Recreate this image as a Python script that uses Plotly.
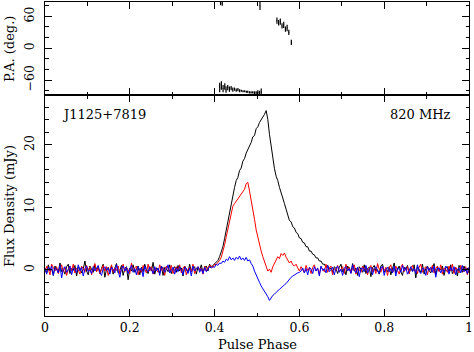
import numpy as np
import plotly.graph_objects as go
from plotly.subplots import make_subplots

# pulse profile, 256 bins across one rotation (mJy)
STOKES_I = [
    0.3, -0.5, 0.8, -0.2, 0.1, -0.9, 0.6, 0.2, -0.4, 1.1, -0.3, 0.0, -0.7, 0.5, 0.9, -0.6,
    0.2, -0.1, 0.7, -1.0, 0.4, 0.3, -0.5, 0.1, 1.4, -0.2, -0.8, 0.6, 0.0, -0.4, 0.8, -0.3,
    0.5, -0.6, 0.2, 0.9, -1.2, 0.1, 0.4, -0.3, 0.6, -0.7, 0.3, 1.0, -0.5, -0.1, 0.7, -0.9,
    0.2, 0.5, -1.6, 0.3, -0.2, 0.8, -0.4, 0.1, 0.6, -0.8, 0.4, -0.3, 0.9, 0.0, -0.6, 0.5,
    -0.2, 1.2, -0.7, 0.3, 0.1, -0.5, 0.6, -0.9, 0.4, 0.2, -0.3, 0.8, -0.6, 0.1, 0.5, -0.4,
    0.7, -0.2, 0.3, -1.0, 0.6, 0.1, -0.4, 0.9, -0.3, 0.2, 0.5, -0.7, 0.4, 0.0, 0.8, -0.5,
    0.3, 0.6, -0.2, 0.9, 0.4, 0.7, 1.0, 1.3, 1.5, 2.1, 2.8, 3.7, 5.0, 6.4, 8.1, 9.4,
    10.9, 12.0, 13.2, 14.3, 14.8, 15.9, 16.3, 17.4, 17.8, 18.7, 19.3, 19.9, 20.4, 21.3, 21.5, 22.6,
    22.9, 23.6, 24.0, 24.6, 24.9, 25.5, 24.1, 21.7, 19.8, 17.3, 16.2, 15.0, 14.3, 13.2, 12.5, 11.5,
    10.6, 9.6, 9.0, 7.9, 7.7, 6.9, 6.7, 6.0, 5.8, 5.1, 5.0, 4.4, 4.3, 3.7, 3.7, 3.0,
    3.0, 2.5, 2.4, 1.9, 1.9, 1.4, 1.4, 0.9, 0.9, 0.4, 0.7, 0.1, 0.3, -0.4, 0.5, 0.2,
    -0.6, 0.4, 0.9, -0.3, 0.1, -0.8, 0.6, 0.2, -0.5, 1.0, -0.2, 0.3, -0.9, 0.5, 0.1, -0.4,
    0.8, -0.6, 0.2, 0.4, -1.1, 0.3, 0.7, -0.2, 0.0, -0.7, 0.6, 0.9, -0.4, 0.1, -0.3, 0.5,
    -0.8, 0.3, 1.1, -0.5, 0.2, 0.6, -0.3, -0.9, 0.4, 0.0, 0.7, -0.6, 0.3, -0.2, 0.8, -1.3,
    0.5, 0.1, -0.4, 0.9, -0.7, 0.2, 0.6, -0.1, -0.5, 0.3, 1.0, -0.8, 0.4, -0.2, 0.1, 0.6,
    -0.9, 0.3, 0.5, -0.3, 0.8, -0.6, 0.0, 0.4, -1.0, 0.7, 0.2, -0.4, 0.6, -0.2, 0.3, -0.5,
]

LINEAR = [
    -0.4, 0.6, 0.1, -0.8, 0.9, 0.3, -0.2, 0.5, -0.6, 0.2, 0.8, -0.3, 0.4, -0.9, 0.1, 0.6,
    -0.2, 0.9, -0.5, 0.3, 0.0, -0.7, 0.6, 0.2, -0.4, 0.7, -0.1, 0.5, -0.8, 0.3, 1.0, -0.3,
    0.4, -0.6, 0.2, 0.7, -0.2, 0.5, -0.9, 0.1, 0.8, -0.4, 0.3, -0.1, 0.6, -0.7, 0.2, 0.9,
    -0.3, 0.4, 0.0, -0.6, 1.1, -0.2, 0.3, 0.6, -0.8, 0.2, -0.4, 0.7, 0.1, -0.5, 0.9, -0.2,
    0.5, -0.7, 0.3, 0.1, -0.4, 0.8, -0.1, 0.4, -0.9, 0.6, 0.2, -0.3, 0.7, -0.6, 0.0, 0.5,
    -0.2, 0.8, -0.5, 0.3, 0.6, -0.8, 0.1, 0.4, -0.3, 0.9, -0.6, 0.2, 0.5, -0.1, 0.3, -0.7,
    0.6, -0.2, 0.4, 0.7, 0.6, 0.4, 0.9, 0.8, 1.2, 1.5, 2.0, 2.9, 4.0, 5.3, 6.6, 7.9,
    9.0, 10.2, 10.6, 11.0, 11.5, 11.8, 12.1, 12.5, 12.9, 13.8, 14.0, 12.6, 11.3, 9.9, 8.1, 6.4,
    5.1, 4.0, 3.0, 2.1, 1.2, 0.4, -0.2, 0.1, -0.4, 0.5, 1.0, 1.6, 2.1, 1.8, 2.6, 2.3,
    2.7, 2.0, 1.6, 1.1, 1.4, 0.8, 0.6, 0.9, 0.3, -0.2, 0.5, 0.1, -0.5, 0.7, -0.1, 0.3,
    -0.6, 0.4, 0.8, -0.2, 0.2, -0.7, 0.5, 0.1, -0.3, 0.9, -0.4, 0.3, 0.6, -0.8, 0.2, -0.1,
    0.7, -0.3, 0.1, 0.5, -0.6, 0.9, -0.2, 0.4, -0.5, 0.2, 0.8, -0.7, 0.3, 0.0, -0.4, 0.6,
    -0.1, 0.5, -0.8, 0.3, 0.7, -0.3, 0.2, -0.6, 1.0, 0.1, -0.4, 0.6, -0.2, 0.4, -0.9, 0.3,
    0.8, -0.5, 0.2, 0.6, -0.1, -0.7, 0.4, 0.9, -0.3, 0.1, 0.5, -0.6, 0.3, 0.7, -0.2, 0.0,
    -0.6, 0.4, 0.9, -0.4, 0.2, 0.5, -0.8, 0.3, -0.1, 0.7, -0.5, 0.2, 0.6, -0.3, 0.8, -0.7,
    0.3, 0.1, -0.4, 0.6, -0.2, 0.9, -0.6, 0.4, 0.0, -0.5, 0.7, 0.2, -0.3, 0.5, -0.8, 0.4,
]

CIRCULAR = [
    0.2, -0.7, 0.4, -0.1, 0.6, -0.9, 0.3, 0.1, -0.5, 0.7, -1.3, 0.2, 0.5, -0.4, 0.0, 0.6,
    -0.8, 0.3, 0.1, -0.5, 0.8, -0.2, 0.4, -1.0, 0.2, 0.6, -0.3, 0.0, -0.6, 0.5, -0.2, 0.3,
    0.7, -0.4, -0.9, 0.2, 0.5, -0.1, 0.3, -0.7, 0.4, 0.1, -0.5, 0.8, -0.3, -1.2, 0.2, 0.6,
    -0.2, 0.4, -0.6, 0.1, 0.7, -0.4, 0.2, -0.8, 0.5, -0.1, 0.3, -1.1, 0.6, 0.0, -0.3, 0.4,
    0.1, -0.6, 0.5, -0.2, 0.3, -0.9, 0.6, 0.2, -0.4, 0.1, 0.8, -0.5, -0.1, 0.4, -0.7, 0.3,
    -0.3, 0.5, 0.0, -0.8, 0.4, 0.2, -0.6, 0.3, -1.0, 0.6, -0.2, 0.1, 0.5, -0.4, 0.2, -0.6,
    0.4, -0.3, 0.1, 0.5, 0.3, 0.5, 0.4, 0.9, 0.7, 1.1, 1.0, 1.4, 1.2, 1.7, 1.5, 2.1,
    1.6, 1.9, 1.5, 2.0, 1.7, 2.2, 1.6, 1.9, 1.5, 2.0, 1.4, 1.6, 1.0, 0.6, -0.2, -0.9,
    -1.5, -2.0, -2.6, -3.0, -3.4, -3.8, -4.3, -4.9, -4.4, -4.1, -3.9, -3.6, -3.3, -3.1, -2.9, -2.6,
    -2.4, -2.2, -1.8, -1.5, -1.2, -1.0, -0.8, -0.7, -0.5, -0.4, -0.2, 0.3, -0.5, 0.2, -0.8, 0.4,
    0.1, -0.6, 0.5, -0.2, 0.3, -1.0, 0.6, -0.1, 0.2, -0.5, 0.7, -0.3, 0.0, 0.4, -0.8, 0.2,
    0.6, -0.4, 0.1, -0.9, 0.3, 0.5, -0.2, 0.2, -0.6, 0.8, -0.1, -0.5, 0.4, -1.1, 0.2, 0.3,
    -0.3, 0.7, -0.5, 0.1, 0.4, -0.8, 0.2, 0.5, -0.2, -0.6, 0.3, 0.6, -0.9, 0.1, 0.4, -0.3,
    0.2, -0.5, 0.6, -1.0, 0.3, 0.1, -0.4, 0.7, -0.2, 0.4, -0.7, 0.0, 0.5, -0.3, 0.2, -0.6,
    0.8, -0.2, -0.6, 0.3, 0.1, -0.9, 0.5, -0.1, 0.4, -0.4, 0.6, -1.2, 0.2, 0.3, -0.5, 0.1,
    -0.4, 0.6, 0.2, -0.7, 0.4, -0.2, 0.5, -0.8, 0.1, 0.3, -0.5, 0.7, -0.3, 0.2, -0.6, 0.4,
]

PHASE = np.arange(len(STOKES_I)) / (len(STOKES_I) - 1)

# position angle points (deg) with errors
PA_PHASE = [0.412, 0.416, 0.420, 0.424, 0.427, 0.431, 0.435, 0.439, 0.443, 0.447,
            0.451, 0.455, 0.459, 0.463, 0.467, 0.471, 0.475, 0.478, 0.482, 0.486,
            0.490, 0.494, 0.498, 0.502, 0.506, 0.510,
            0.414, 0.418, 0.507,
            0.547, 0.551, 0.555, 0.559, 0.563, 0.567, 0.571, 0.575, 0.581]
PA_DEG = [-74, -70, -76, -72, -78, -74, -77, -75, -78, -77,
          -79, -78, -80, -80, -81, -81, -82, -82, -83, -83,
          -83, -84, -84, -83, -84, -82,
          86, 84, 80,
          52, 48, 50, 42, 44, 36, 38, 30, 11]
PA_ERR = [9, 8, 7, 6, 6, 5, 5, 4, 4, 3,
          3, 3, 3, 2, 2, 2, 2, 2, 2, 2,
          2, 3, 3, 4, 4, 6,
          5, 4, 8,
          6, 5, 6, 5, 6, 5, 6, 5, 5]

SOURCE = "J1125+7819"
FREQ = "820 MHz"

FONT = "DejaVu Serif"
TXT = dict(family=FONT, size=13, color="black")

fig = make_subplots(rows=2, cols=1, shared_xaxes=True, vertical_spacing=0,
                    row_heights=[93, 221])

fig.add_trace(go.Scatter(x=PA_PHASE, y=PA_DEG, mode="markers",
                         marker=dict(size=1, color="black"),
                         error_y=dict(type="data", array=PA_ERR, width=0,
                                      thickness=1.2, color="black")),
              row=1, col=1)

for vals, col in [(STOKES_I, "black"), (LINEAR, "#ff0000"), (CIRCULAR, "#0000ff")]:
    fig.add_trace(go.Scatter(x=PHASE, y=vals, mode="lines",
                             line=dict(color=col, width=1)),
                  row=2, col=1)

axis_style = dict(showline=True, linecolor="black", linewidth=1, mirror="allticks",
                  ticks="inside", tickcolor="black", ticklen=7, showgrid=False,
                  zeroline=False, automargin=False,
                  tickfont=dict(family=FONT, size=12.5, color="black"))

fig.update_xaxes(**axis_style, range=[0, 1], dtick=0.2, tick0=0,
                 minor=dict(dtick=0.1, ticklen=3.5, ticks="inside", tickcolor="black"))
fig.update_xaxes(showticklabels=False, row=1, col=1)

fig.update_yaxes(**axis_style, tickangle=-90, ticklabelstandoff=5)
fig.update_yaxes(range=[-88, 87], dtick=60, tick0=0,
                 minor=dict(dtick=20, ticklen=3.5, ticks="inside", tickcolor="black"),
                 row=1, col=1)
fig.update_yaxes(range=[-7.4, 28], dtick=10, tick0=0,
                 minor=dict(dtick=2, ticklen=3.5, ticks="inside", tickcolor="black"),
                 row=2, col=1)

# axis titles
fig.add_annotation(x=0.5, y=-0.092, xref="paper", yref="paper", text="Pulse Phase",
                   showarrow=False, xanchor="center", yanchor="middle", font=TXT)
fig.add_annotation(x=-0.085, y=0.853, xref="paper", yref="paper", text="P.A. (deg.)",
                   showarrow=False, textangle=-90, xanchor="center", yanchor="middle",
                   font=TXT)
fig.add_annotation(x=-0.085, y=0.35, xref="paper", yref="paper", text="Flux Density (mJy)",
                   showarrow=False, textangle=-90, xanchor="center", yanchor="middle",
                   font=TXT)

fig.add_annotation(x=0.035, y=24.8, xref="x2", yref="y2", text=SOURCE, showarrow=False,
                   xanchor="left", yanchor="middle", font=TXT)
fig.add_annotation(x=0.962, y=24.8, xref="x2", yref="y2", text=FREQ, showarrow=False,
                   xanchor="right", yanchor="middle", font=TXT)

fig.update_layout(width=474, height=352, margin=dict(l=45, r=5, t=2, b=36),
                  plot_bgcolor="white", paper_bgcolor="white", showlegend=False,
                  hovermode=False)

fig.write_html("out.html", config={"displayModeBar": False},
               post_script="document.body.style.margin='0px';")
